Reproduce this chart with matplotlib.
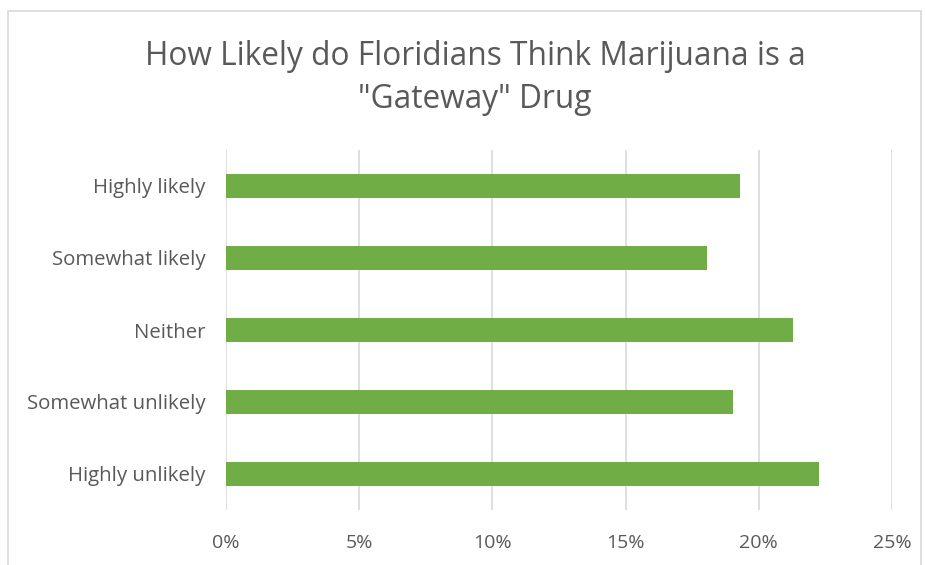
import matplotlib
matplotlib.use("Agg")
import matplotlib.pyplot as plt
from matplotlib.patches import Rectangle

plt.rcParams['font.family'] = ['Open Sans', 'DejaVu Sans']

categories = ["Highly likely", "Somewhat likely", "Neither", "Somewhat unlikely", "Highly unlikely"]
values = [19.3, 18.05, 21.3, 19.05, 22.25]
x_ticks = [0, 5, 10, 15, 20, 25]
x_tick_labels = ["0%", "5%", "10%", "15%", "20%", "25%"]
title = 'How Likely do Floridians Think Marijuana is a\n"Gateway" Drug'

text_color = "#595959"
bar_color = "#70AD47"
grid_color = "#D9D9D9"

fig = plt.figure(figsize=(9.25, 5.65), dpi=100)
W, H = 925, 565
ax = fig.add_axes([226 / W, 1 - 510 / H, (892 - 226) / W, 360 / H])

ypos = list(range(len(categories)))
ax.barh(ypos, values, height=0.335, color=bar_color, zorder=3)
ax.set_ylim(len(categories) - 0.5, -0.5)
ax.set_xlim(0, 25)
ax.set_yticks(ypos)
ax.set_yticklabels(categories, fontsize=14.7, color=text_color)
ax.set_xticks(x_ticks)
ax.set_xticklabels(x_tick_labels, fontsize=14, color=text_color)
ax.tick_params(axis='both', length=0)
ax.tick_params(axis='y', pad=15)
ax.tick_params(axis='x', pad=17)
ax.grid(axis='x', color=grid_color, linewidth=1.2, zorder=0)
for s in ax.spines.values():
    s.set_visible(False)

fig.text(475 / W, 1 - 78 / H, title, ha='center', va='center', fontsize=22.8,
         color=text_color, linespacing=1.4)

fig.patches.append(Rectangle((8 / W, -0.05), (921 - 8) / W, 1.05 - 11 / H,
                             transform=fig.transFigure, fill=False,
                             edgecolor=grid_color, linewidth=1.2))

fig.savefig("out.png", dpi=100)
